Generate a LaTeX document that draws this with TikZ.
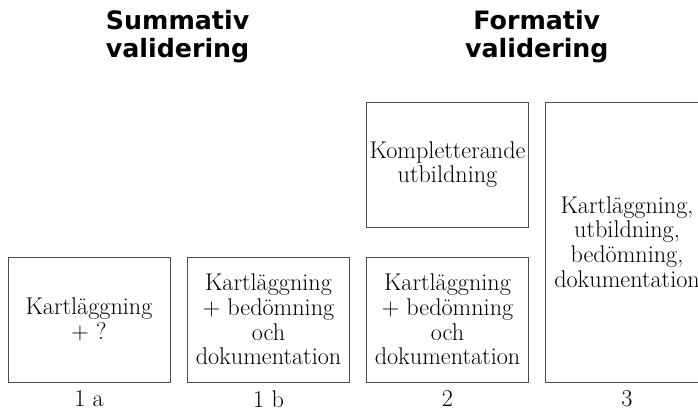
\documentclass[tikz,border=0pt]{standalone}
\usepackage{fontspec}
\newfontfamily\headfont{DejaVu Sans}
\usetikzlibrary{positioning}

\begin{document}
\begin{tikzpicture}[
  box/.style={draw=black!70,line width=0.7pt,align=center,inner sep=2pt,font=\fontsize{17.2}{17.6}\selectfont},
  head/.style={align=center,inner sep=0pt,anchor=north,font=\headfont\bfseries\fontsize{18}{19.6}\selectfont},
  num/.style={font=\fontsize{17.2}{17.6}\selectfont}]
\useasboundingbox (0,0) rectangle (17.45,10.425);
%
\node[head] (summ) at (4.44,10.17) {Summativ\\validering};
\node[head] (form) at (13.42,10.17) {Formativ\\validering};
%
\node[box,minimum width=4.05cm,minimum height=3.125cm] (b1a) at (2.225,2.4375) {Kartläggning\\+ ?};
\node[box,minimum width=4.05cm,minimum height=3.125cm] (b1b) at (6.7125,2.4375) {Kartläggning\\+ bedömning\\och\\dokumentation};
\node[box,minimum width=4.05cm,minimum height=3.125cm] (b2) at (11.1875,2.4375) {Kartläggning\\+ bedömning\\och\\dokumentation};
\node[box,minimum width=4.05cm,minimum height=3.125cm] (b2top) at (11.1875,6.3125) {Kompletterande\\utbildning};
\node[box,minimum width=4.1cm,minimum height=7cm] (b3) at (15.675,4.375) {Kartläggning,\\utbildning,\\bedömning,\\dokumentation};
%
\node[num] (n1a) at (2.225,0.45) {1 a};
\node[num] (n1b) at (6.7125,0.45) {1 b};
\node[num] (n2) at (11.1875,0.45) {2};
\node[num] (n3) at (15.675,0.45) {3};
\end{tikzpicture}
\end{document}
